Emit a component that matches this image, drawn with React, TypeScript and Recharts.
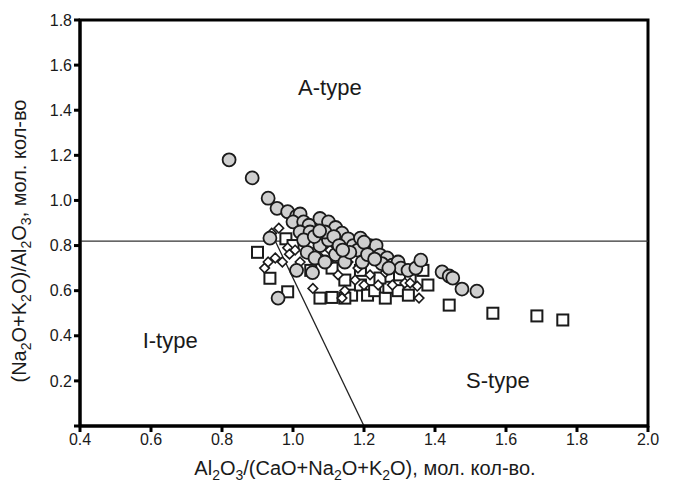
import React from 'react';
import { ScatterChart, Scatter, XAxis, YAxis, ReferenceLine, ReferenceArea, ReferenceDot } from 'recharts';

// grey filled circles
const circlePoints: [number, number][] = [
  [0.82, 1.18], [0.885, 1.10], [0.93, 1.01], [0.955, 0.965], [0.985, 0.95],
  [1.01, 0.93], [1.02, 0.94], [1.0, 0.905], [1.03, 0.905], [1.045, 0.89],
  [1.076, 0.92], [1.10, 0.905], [1.12, 0.88], [1.138, 0.855], [1.155, 0.83],
  [1.17, 0.80], [0.935, 0.833], [0.958, 0.567], [1.01, 0.69], [1.055, 0.68],
  [1.04, 0.77], [1.076, 0.80], [1.10, 0.825], [1.12, 0.76], [1.146, 0.727],
  [1.183, 0.78], [1.195, 0.727], [1.217, 0.80], [1.234, 0.80], [1.245, 0.758],
  [1.265, 0.745], [1.28, 0.713], [1.296, 0.727], [1.304, 0.70], [1.324, 0.69],
  [1.346, 0.70], [1.36, 0.735], [1.42, 0.683], [1.44, 0.665], [1.45, 0.656],
  [1.476, 0.607], [1.518, 0.598], [1.19, 0.833], [1.20, 0.815], [1.062, 0.745],
  [1.09, 0.727], [1.02, 0.86], [1.048, 0.86], [1.03, 0.825], [1.09, 0.86],
  [1.06, 0.84], [1.075, 0.865], [1.115, 0.84], [1.13, 0.80], [1.16, 0.77],
  [1.21, 0.76], [1.25, 0.72], [1.23, 0.74], [1.27, 0.70], [1.14, 0.78],
];

// open squares
const squarePoints: [number, number][] = [
  [0.90, 0.77], [0.98, 0.83], [0.935, 0.655], [0.985, 0.595], [1.05, 0.69],
  [1.11, 0.57], [1.165, 0.58], [1.19, 0.625], [1.21, 0.58], [1.23, 0.60],
  [1.26, 0.567], [1.27, 0.615], [1.296, 0.60], [1.325, 0.58], [1.33, 0.647],
  [1.30, 0.67], [1.366, 0.69], [1.38, 0.625], [1.44, 0.536], [1.563, 0.50],
  [1.687, 0.488], [1.76, 0.47], [1.146, 0.647], [1.11, 0.70], [1.245, 0.656],
  [1.19, 0.69], [1.146, 0.567], [1.076, 0.567], [1.0, 0.80],
];

// open diamonds
const diamondPoints: [number, number][] = [
  [0.96, 0.877], [0.94, 0.855], [0.985, 0.79], [0.99, 0.762], [1.006, 0.78],
  [0.97, 0.727], [0.95, 0.745], [0.92, 0.70], [0.93, 0.727], [1.056, 0.61],
  [1.02, 0.727], [1.07, 0.758], [1.10, 0.727], [1.05, 0.80], [1.127, 0.67],
  [1.146, 0.60], [1.138, 0.567], [1.175, 0.647], [1.183, 0.70], [1.20, 0.625],
  [1.217, 0.67], [1.24, 0.625], [1.26, 0.68], [1.28, 0.625], [1.315, 0.634],
  [1.33, 0.634], [1.35, 0.62], [1.355, 0.567], [1.155, 0.727], [1.104, 0.78],
];

const xTicks = [0.4, 0.6, 0.8, 1.0, 1.2, 1.4, 1.6, 1.8, 2.0];
const yTicks = [0, 0.2, 0.4, 0.6, 0.8, 1.0, 1.2, 1.4, 1.6, 1.8];

// boundary between fields
const divideY = 0.82;
const diagonal = [{ x: 0.95, y: 0.82 }, { x: 1.2, y: 0 }];

const fieldLabels = [
  { name: 'A-type', x: 1.104, y: 1.5 },
  { name: 'I-type', x: 0.654, y: 0.38 },
  { name: 'S-type', x: 1.577, y: 0.205 },
];

// axis titles; '_' marks a subscript run
const xTitleParts = ['Al', '_2', 'O', '_3', '/(CaO+Na', '_2', 'O+K', '_2', 'O), мол. кол-во.'];
const yTitleParts = ['(Na', '_2', 'O+K', '_2', 'O)/Al', '_2', 'O', '_3', ', мол. кол-во'];

const toXY = (pts: [number, number][]) => pts.map(([x, y]) => ({ x, y }));

const FONT = '"Liberation Sans", Arial, sans-serif';
const INK = '#1a1a1a';
const SUB_SHIFT = 5;

const Circle = (p: any) => (
  <circle cx={p.cx} cy={p.cy} r={6.5} fill="#cfcfcf" stroke={INK} strokeWidth={1.8} />
);
const Square = (p: any) => (
  <rect x={p.cx - 5.5} y={p.cy - 5.5} width={11} height={11} fill="#fff" stroke={INK} strokeWidth={2} />
);
const Diamond = (p: any) => (
  <path
    d={`M${p.cx},${p.cy - 4.8}L${p.cx + 4.8},${p.cy}L${p.cx},${p.cy + 4.8}L${p.cx - 4.8},${p.cy}Z`}
    fill="#fff"
    stroke={INK}
    strokeWidth={1.6}
  />
);

// render parts as tspans, shifting subscripts down and back up
const renderParts = (parts: string[]) => {
  let lowered = false;
  return parts.map((part, i) => {
    const isSub = part.startsWith('_');
    let dy = 0;
    if (isSub && !lowered) dy = SUB_SHIFT;
    if (!isSub && lowered) dy = -SUB_SHIFT;
    lowered = isSub;
    return (
      <tspan key={i} dy={dy} fontSize={isSub ? 14 : undefined}>
        {isSub ? part.slice(1) : part}
      </tspan>
    );
  });
};

const XTitle = (props: any) => {
  const { x, width } = props.viewBox;
  return (
    <text x={x + width / 2 + 1} y={475} textAnchor="middle" fontSize={20} fill={INK} fontFamily={FONT}>
      {renderParts(xTitleParts)}
    </text>
  );
};

const YTitle = (props: any) => {
  const { y, height } = props.viewBox;
  const cx = 26;
  const cy = y + height / 2 + 18;
  return (
    <text x={cx} y={cy} transform={`rotate(-90, ${cx}, ${cy})`} textAnchor="middle" fontSize={20} fill={INK} fontFamily={FONT}>
      {renderParts(yTitleParts)}
    </text>
  );
};

export default function App() {
  return (
    <div style={{ position: 'absolute', left: 0, top: 0, width: 676, height: 494, background: '#fff' }}>
      <ScatterChart width={676} height={494} margin={{ top: 20, right: 28, left: 0, bottom: 0 }}>
        <XAxis
          type="number"
          dataKey="x"
          domain={[0.4, 2.0]}
          ticks={xTicks}
          tickFormatter={(v: number) => v.toFixed(1)}
          height={68}
          tickSize={6}
          axisLine={{ stroke: '#000', strokeWidth: 3 }}
          tickLine={{ stroke: '#000', strokeWidth: 3 }}
          tick={{ fill: INK, fontSize: 16, fontFamily: FONT }}
          label={<XTitle />}
          allowDataOverflow
        />
        <YAxis
          type="number"
          dataKey="y"
          domain={[0, 1.8]}
          ticks={yTicks}
          tickFormatter={(v: number) => (v === 0 ? '' : v.toFixed(1))}
          width={80}
          tickSize={6}
          axisLine={{ stroke: '#000', strokeWidth: 3 }}
          tickLine={{ stroke: '#000', strokeWidth: 3 }}
          tick={{ fill: INK, fontSize: 16, fontFamily: FONT }}
          label={<YTitle />}
          allowDataOverflow
        />
        <ReferenceArea x1={0.4} x2={2.0} y1={0} y2={1.8} fill="none" stroke="#000" strokeWidth={3} />
        <ReferenceLine y={divideY} stroke="#333" strokeWidth={1.3} />
        <ReferenceLine segment={diagonal} stroke="#222" strokeWidth={1.3} />
        {fieldLabels.map((f) => (
          <ReferenceDot
            key={f.name}
            x={f.x}
            y={f.y}
            r={0}
            stroke="none"
            label={{ value: f.name, position: 'center', fontSize: 22, fill: INK, fontFamily: FONT }}
          />
        ))}
        <Scatter data={toXY(squarePoints)} shape={Square} isAnimationActive={false} />
        <Scatter data={toXY(diamondPoints)} shape={Diamond} isAnimationActive={false} />
        <Scatter data={toXY(circlePoints)} shape={Circle} isAnimationActive={false} />
      </ScatterChart>
    </div>
  );
}
